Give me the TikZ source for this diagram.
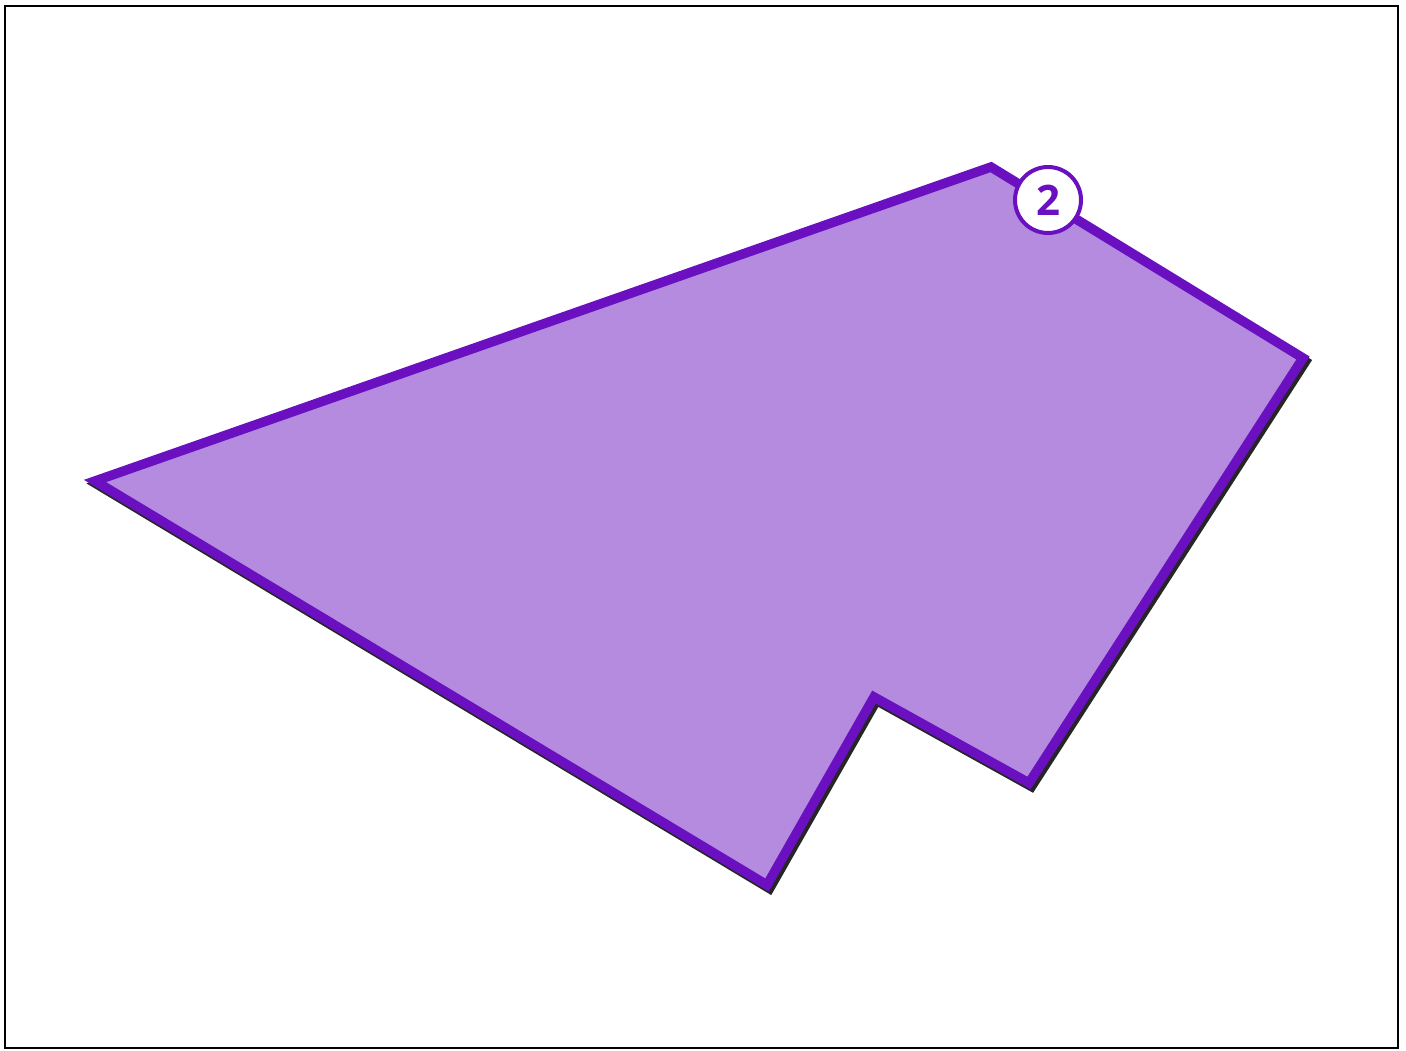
\documentclass[tikz,border=0pt]{standalone}
\usepackage{fontspec}
\setmainfont{Open Sans}
\definecolor{pfill}{HTML}{B48BDF}
\definecolor{pline}{HTML}{6A10C0}
\begin{document}
\begin{tikzpicture}[x=1pt,y=-1pt,
  shape outline/.style={line width=9.5pt,line join=miter},
  badge/.style={circle,draw=pline,fill=white,line width=4pt,minimum size=66pt,inner sep=0pt,text=pline,font=\fontsize{42}{42}\selectfont\bfseries}]
\useasboundingbox (0,0) rectangle (1406,1050);
\draw[line width=2pt] (5,6) rectangle (1398,1048);
\coordinate (A) at (95,481);
\coordinate (B) at (991,167);
\coordinate (C) at (1303,358);
\coordinate (D) at (1029,783);
\coordinate (E) at (874,697);
\coordinate (F) at (767,885);
\draw[shape outline,black,opacity=0.85]
  ([shift={(2.5,3.5)}]A) -- ([shift={(2.5,3.5)}]B) -- ([shift={(2.5,3.5)}]C) -- ([shift={(2.5,3.5)}]D)
  -- ([shift={(2.5,3.5)}]E) -- ([shift={(2.5,3.5)}]F) -- cycle;
\draw[shape outline,draw=pline,fill=pfill] (A) -- (B) -- (C) -- (D) -- (E) -- (F) -- cycle;
\node[badge] (lbl) at (1048,200) {2};
\end{tikzpicture}
\end{document}
